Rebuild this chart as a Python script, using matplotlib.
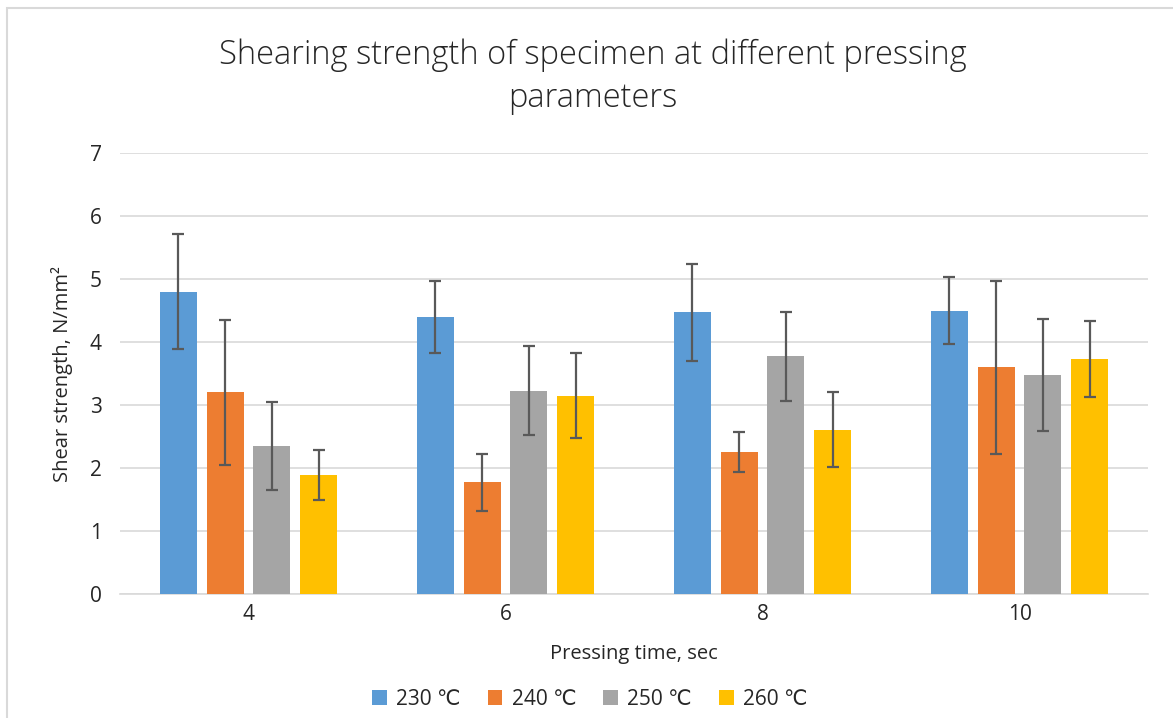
import matplotlib.pyplot as plt
from matplotlib.patches import Rectangle
import numpy as np

# data
times = ['4', '6', '8', '10']
series = ['230 ℃', '240 ℃', '250 ℃', '260 ℃']
colors = ['#5b9bd5', '#ed7d31', '#a5a5a5', '#ffc000']

s230 = [4.80, 4.40, 4.47, 4.50]
s240 = [3.20, 1.77, 2.25, 3.60]
s250 = [2.35, 3.23, 3.77, 3.47]
s260 = [1.89, 3.15, 2.61, 3.73]

e230 = [0.91, 0.57, 0.77, 0.53]
e240 = [1.15, 0.46, 0.32, 1.37]
e250 = [0.70, 0.70, 0.71, 0.89]
e260 = [0.40, 0.67, 0.60, 0.60]

plt.rcParams['font.family'] = ['Open Sans', 'DejaVu Sans']
txt = '#262626'

fig = plt.figure(figsize=(11.73, 7.18), dpi=100)
ax = fig.add_axes([0.1023, 0.1727, 0.8764, 0.6142])

# chart border (only the left/top edges are visible in the crop)
fig.patches.append(Rectangle((7 / 1173, -0.1), 1.2, 1.1 - 8 / 718, transform=fig.transFigure,
                             fill=False, edgecolor='#d9d9d9', linewidth=1.5))

x = np.arange(len(times))
step = 0.1817
width = 0.144
values = [s230, s240, s250, s260]
errors = [e230, e240, e250, e260]
for i in range(4):
    ax.bar(x + (i - 1.5) * step, values[i], width, color=colors[i], label=series[i],
           yerr=errors[i], capsize=4.3,
           error_kw=dict(ecolor='#595959', elinewidth=1.6, capthick=1.6), zorder=3)

ax.set_xlim(-0.5, 3.5)
ax.set_ylim(0, 7)
ax.set_yticks(range(0, 8))
ax.set_xticks(x)
ax.set_xticklabels(times)
ax.tick_params(length=0, labelsize=15, colors=txt)
ax.tick_params(axis='x', pad=7)
ax.tick_params(axis='y', pad=13)
ax.grid(axis='y', color='#d9d9d9', linewidth=1.2, zorder=0)
for sp in ['top', 'right', 'left']:
    ax.spines[sp].set_visible(False)
ax.spines['bottom'].set_color('#d9d9d9')
ax.spines['bottom'].set_linewidth(1.2)

ax.set_xlabel('Pressing time, sec', fontsize=14.5, color=txt, labelpad=14)
ax.set_ylabel('Shear strength, N/mm²', fontsize=14.5, color=txt, labelpad=12)

fig.text(0.5055, 0.893, 'Shearing strength of specimen at different pressing\nparameters',
         ha='center', va='center', fontsize=23.5, color=txt, linespacing=1.35,
         fontweight='light')

ax.legend(loc='upper center', bbox_to_anchor=(0.457, -0.172), ncol=4, frameon=False,
          fontsize=15, handlelength=0.7, handleheight=0.7, handletextpad=0.45,
          columnspacing=1.3, labelcolor=txt)

fig.savefig('out.png', dpi=100)
